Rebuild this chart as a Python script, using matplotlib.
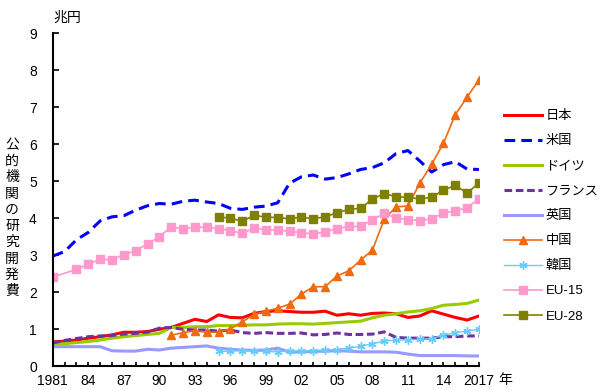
import numpy as np
import matplotlib
matplotlib.use('Agg')
import matplotlib.pyplot as plt

plt.rcParams['font.family'] = ['Liberation Sans', 'Noto Sans CJK JP']
plt.rcParams['font.size'] = 10

years = np.arange(1981, 2018)

japan = [0.66, 0.68, 0.71, 0.76, 0.80, 0.85, 0.92, 0.92, 0.94, 1.00,
         1.05, 1.16, 1.27, 1.21, 1.39, 1.32, 1.31, 1.43, 1.48, 1.50,
         1.48, 1.46, 1.46, 1.49, 1.38, 1.42, 1.38, 1.43, 1.44, 1.42,
         1.32, 1.36, 1.50, 1.41, 1.32, 1.25, 1.36]
usa = [2.98, 3.10, 3.42, 3.62, 3.93, 4.04, 4.07, 4.22, 4.34, 4.40,
       4.38, 4.46, 4.49, 4.44, 4.40, 4.27, 4.24, 4.30, 4.33, 4.42,
       4.95, 5.12, 5.17, 5.06, 5.10, 5.20, 5.32, 5.37, 5.50, 5.75,
       5.83, 5.55, 5.25, 5.45, 5.53, 5.33, 5.32]
germany = [0.59, 0.61, 0.64, 0.67, 0.71, 0.76, 0.80, 0.83, 0.86, 0.89,
           1.05, 1.05, 1.07, 1.07, 1.10, 1.10, 1.11, 1.12, 1.12, 1.14,
           1.15, 1.15, 1.14, 1.16, 1.18, 1.20, 1.22, 1.31, 1.38, 1.42,
           1.47, 1.50, 1.56, 1.65, 1.67, 1.70, 1.79]
france = [0.63, 0.70, 0.75, 0.80, 0.82, 0.83, 0.87, 0.89, 0.92, 1.03,
          1.05, 1.00, 0.98, 0.98, 0.95, 0.98, 0.91, 0.89, 0.91, 0.89,
          0.89, 0.90, 0.85, 0.86, 0.90, 0.86, 0.86, 0.87, 0.93, 0.78,
          0.76, 0.76, 0.76, 0.80, 0.80, 0.82, 0.82]
uk = [0.53, 0.53, 0.53, 0.53, 0.53, 0.42, 0.41, 0.41, 0.46, 0.44,
      0.49, 0.51, 0.53, 0.55, 0.49, 0.46, 0.44, 0.43, 0.44, 0.49,
      0.38, 0.39, 0.40, 0.41, 0.42, 0.41, 0.39, 0.39, 0.39, 0.38,
      0.33, 0.29, 0.29, 0.29, 0.29, 0.28, 0.28]

china_years = np.arange(1991, 2018)
china = [0.84, 0.91, 0.96, 0.92, 0.92, 1.01, 1.20, 1.40, 1.49, 1.57,
         1.68, 1.95, 2.15, 2.15, 2.44, 2.58, 2.87, 3.14, 3.98, 4.31,
         4.33, 4.95, 5.46, 6.03, 6.80, 7.28, 7.74]

korea_years = np.arange(1995, 2018)
korea = [0.40, 0.41, 0.42, 0.42, 0.40, 0.39, 0.41, 0.41, 0.42, 0.44,
         0.45, 0.49, 0.54, 0.61, 0.68, 0.71, 0.71, 0.73, 0.75, 0.84,
         0.91, 0.95, 1.00]

eu15_years = np.concatenate([[1981], np.arange(1983, 2018)])
eu15 = [2.41, 2.62, 2.76, 2.89, 2.88, 3.02, 3.12, 3.31, 3.50, 3.77,
        3.71, 3.76, 3.76, 3.72, 3.67, 3.59, 3.73, 3.69, 3.68, 3.65,
        3.61, 3.58, 3.63, 3.72, 3.78, 3.78, 3.96, 4.13, 4.01, 3.96,
        3.94, 3.98, 4.15, 4.20, 4.29, 4.53]

eu28_years = np.arange(1995, 2018)
eu28 = [4.04, 4.00, 3.92, 4.08, 4.03, 4.02, 3.99, 4.03, 3.99, 4.04,
        4.15, 4.24, 4.27, 4.52, 4.67, 4.58, 4.57, 4.52, 4.57, 4.76,
        4.89, 4.68, 4.96]

fig = plt.figure(figsize=(6, 3.9), dpi=100)
ax = fig.add_axes([0.088, 0.0608, 0.7103, 0.8538])

ax.plot(years, japan, color='#ff0000', lw=2.2, label='日本')
ax.plot(years, usa, color='#0000ff', lw=2.2, dashes=(3.5, 2), label='米国')
ax.plot(years, germany, color='#99cc00', lw=2.2, label='ドイツ')
ax.plot(years, france, color='#7030a0', lw=2.2, dashes=(2.5, 1.2), label='フランス')
ax.plot(years, uk, color='#9999ff', lw=2.2, label='英国')
ax.plot(china_years, china, color='#f26a10', lw=1.2, marker='^', ms=5.5, label='中国')
ax.plot(korea_years, korea, color='#66ccff', lw=1.0, marker=(6, 2, 0), ms=6,
        mew=1.0, label='韓国')
ax.plot(eu15_years, eu15, color='#ff99cc', lw=1.2, marker='s', ms=5.5, label='EU-15')
ax.plot(eu28_years, eu28, color='#808000', lw=1.2, marker='s', ms=5.5, label='EU-28')

ax.set_xlim(1981, 2017)
ax.set_ylim(0, 9)
ax.set_yticks(range(10))
ax.set_xticks(years)
labels = []
for y in years:
    if y in (1981, 2017):
        labels.append(str(y))
    elif (y - 1981) % 3 == 0:
        labels.append(str(y)[2:])
    else:
        labels.append('')
ax.set_xticklabels(labels)

for s in ['top', 'right']:
    ax.spines[s].set_visible(False)
for s in ['left', 'bottom']:
    ax.spines[s].set_linewidth(1.5)

ax.tick_params(axis='y', direction='in', length=4, width=1.2, pad=11.5, labelsize=10)
ax.tick_params(axis='x', direction='in', length=3, width=1.2, pad=5.4, labelsize=10)

fig.text(53 / 600, 1 - 18 / 390, '兆円', ha='left', va='center', fontsize=10)
fig.text(505 / 600, 1 - 380 / 390, '年', ha='center', va='center', fontsize=10)
fig.text(12 / 600, 1 - 218 / 390, '\n'.join('公的機関の研究開発費'),
         ha='center', va='center', fontsize=10, linespacing=1.2)

ax.legend(loc='upper left', bbox_to_anchor=(504 / 600, 1 - 110 / 390),
          bbox_transform=fig.transFigure, frameon=False, fontsize=9.5,
          handlelength=2.9, handletextpad=0.25, labelspacing=0.97,
          borderpad=0, borderaxespad=0)

fig.savefig('out.png', dpi=100)
